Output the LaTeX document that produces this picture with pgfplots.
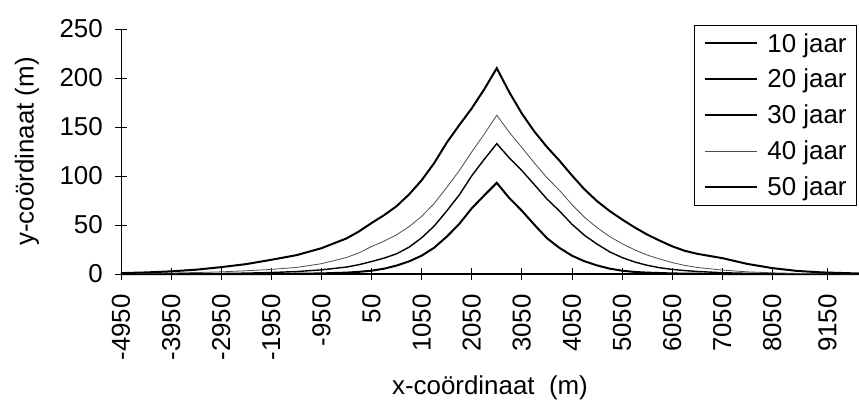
\documentclass[border=0pt]{standalone}
\usepackage{pgfplots}
\pgfplotsset{compat=1.18}
\usepackage{pgfplotstable}
\usepackage{fontspec}
\setmainfont{Liberation Sans}
\newcommand\chartfont{\fontsize{26}{31}\selectfont}

% Profiles of y (m) along x (m) after 10 to 50 years
\pgfplotstableread{
x      y10 y20   y30   y40   y50
-4950  0   0     0     0.4   0.9
-4450  0   0     0     0.7   1.6
-3950  0   0     0     1.0   2.7
-3450  0   0     0.3   1.5   4.4
-2950  0   0     0.5   2.2   7.0
-2450  0   0     0.9   3.3   10.1
-1950  0   0     1.5   4.7   14.5
-1450  0   0.3   2.5   6.7   19.2
-950   0   0.6   4.2   10.5  26.3
-450   0   1.4   7.1   16.8  36.3
-200   0   2.2   9.5   21.6  43.4
50     0   3.4   12.7  28.0  52.0
300    0   5.4   16.2  33.5  60.0
550    0   8.6   20.6  40.0  69.2
800    0   12.9  27.4  48.3  81.2
1050   0   18.7  36.9  58.8  95.6
1300   0   26.8  48.9  71.9  113.1
1550   0   38.0  64.2  88.2  133.9
1800   0   51.0  80.6  105.3 151.8
2050   0   67.0  100.2 124.5 169.0
2300   0   80.2  117.0 142.7 188.5
2550   0   93.0  133.0 162.0 210.0
2800   0   77.5  118.4 144.6 185.5
3050   0   64.6  105.6 129.1 163.8
3300   0   50.3  91.2  113.3 145.4
3550   0   36.6  76.6  98.4  129.7
3800   0   26.7  64.3  85.4  115.7
4050   0   18.7  50.8  70.8  100.6
4300   0   13.0  39.5  57.9  86.4
4550   0   8.8   30.6  47.4  74.4
4800   0   5.5   22.7  38.3  64.4
5050   0   3.4   16.8  31.0  55.7
5300   0   2.1   12.3  24.7  47.6
5550   0   1.4   8.9   19.4  40.3
5800   0   1.0   6.4   15.3  34.1
6050   0   0.6   4.7   11.7  28.3
6300   0   0.4   3.5   8.8   23.7
6550   0   0.3   2.6   6.7   20.6
7050   0   0     1.3   4.0   16.2
7550   0   0     0.7   2.2   10.3
8050   0   0     0.3   1.2   6.0
8550   0   0     0     0.6   3.1
9050   0   0     0     0.3   1.6
9780   0   0     0     0     0.5
}\profiles

\begin{document}
\begin{tikzpicture}
\path[use as bounding box] (-121bp,-127bp) rectangle (738bp,274bp);
\begin{axis}[
  at={(0,0)}, anchor=south west,
  scale only axis, width=738bp, height=245bp,
  xmin=-4950, xmax=9780, ymin=0, ymax=250,
  clip=false,
  axis lines*=left,
  axis line style={line width=0.8bp, black, -},
  tick align=center, major tick length=12bp,
  tick style={line width=0.8bp, black},
  xtick={-4950,-3950,-2950,-1950,-950,50,1050,2050,3050,4050,5050,6050,7050,8050,9150},
  xticklabels={-4950,-3950,-2950,-1950,-950,50,1050,2050,3050,4050,5050,6050,7050,8050,9150},
  xticklabel style={rotate=90, anchor=east, font=\chartfont, inner sep=0pt},
  xticklabel shift=14bp,
  ytick={0,50,100,150,200,250},
  yticklabel style={font=\chartfont, inner sep=0pt},
  yticklabel shift=12bp,
  /pgf/number format/assume math mode=true,
  xlabel={x-coördinaat\ \ (m)},
  ylabel={y-coördinaat (m)},
  xlabel style={at={(axis description cs:0.5,-0.465)}, anchor=center, font=\chartfont, inner sep=0pt},
  ylabel style={at={(axis description cs:-0.1274,0.5)}, anchor=center, font=\chartfont, inner sep=0pt},
  legend style={at={(rel axis cs:0.997,1.016)}, anchor=north east, draw=black,
    font=\chartfont, inner xsep=10bp, inner ysep=8bp,
    nodes={inner sep=0pt}, row sep=15.6bp,
    /tikz/every odd column/.style={column sep=9bp}},
  legend cell align=left,
  legend image code/.code={\draw[#1] (0bp,0bp) -- (52bp,0bp);},
]
\addplot[black, line width=2bp] table[x=x, y=y10] {\profiles};
\addlegendentry{10 jaar}
\addplot[black, line width=2bp] table[x=x, y=y20] {\profiles};
\addlegendentry{20 jaar}
\addplot[black, line width=1.4bp] table[x=x, y=y30] {\profiles};
\addlegendentry{30 jaar}
\addplot[black!70, line width=0.8bp] table[x=x, y=y40] {\profiles};
\addlegendentry{40 jaar}
\addplot[black, line width=2bp] table[x=x, y=y50] {\profiles};
\addlegendentry{50 jaar}
\end{axis}
\end{tikzpicture}
\end{document}
